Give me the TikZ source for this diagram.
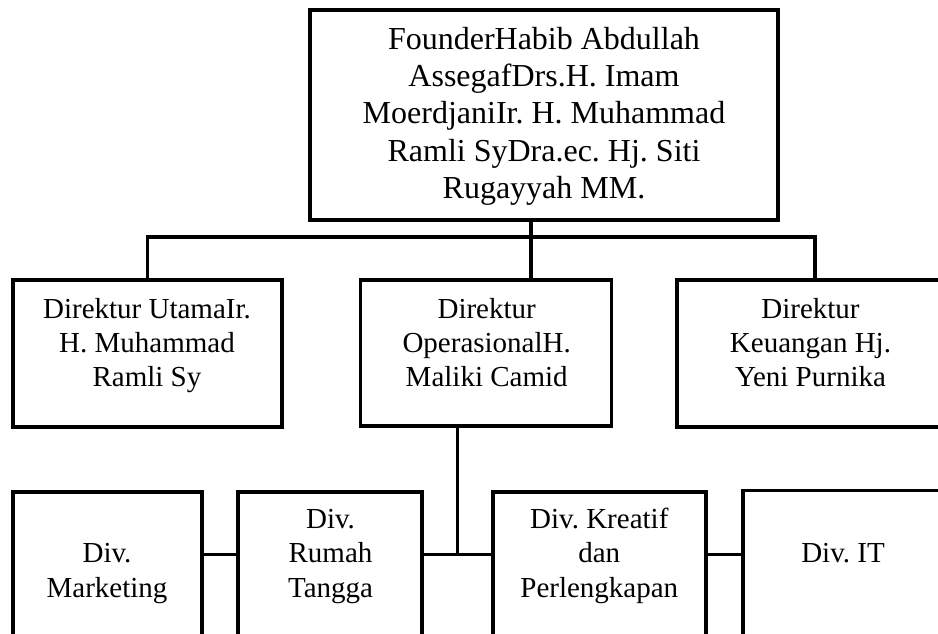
\documentclass[tikz,border=0pt]{standalone}
\usepackage{fontspec}
\setmainfont{Liberation Serif}
\frenchspacing
\begin{document}
\begin{tikzpicture}[x=1pt,y=-1pt,
  box/.style={draw, line width=3.3pt, rectangle, inner sep=0pt},
  conn/.style={line width=3.3pt},
  txt/.style={align=center, inner sep=0pt, anchor=base, font=\fontsize{29}{34.2}\selectfont\frenchspacing},
  bigtxt/.style={align=center, inner sep=0pt, anchor=base, font=\fontsize{32}{37.25}\selectfont\frenchspacing}]
\useasboundingbox (0,0) rectangle (938,634);
\clip (0,0) rectangle (938,634);
% boxes
\node[box, minimum width=468, minimum height=210] (top) at (544,115) {};
\node[box, minimum width=269, minimum height=147] (dirut) at (147.5,353.5) {};
\node[box, minimum width=251, minimum height=146] (opr) at (486,353) {};
\node[box, minimum width=276, minimum height=147] (keu) at (815,353.5) {};
\node[box, minimum width=189, minimum height=168] (mkt) at (107.5,576) {};
\node[box, minimum width=184, minimum height=168] (rt) at (330,576) {};
\node[box, minimum width=213, minimum height=168] (kr) at (599.5,576) {};
\node[box, minimum width=200, minimum height=169.5] (it) at (843,575.25) {};
% texts (anchor = baseline of the last line)
\node[bigtxt] (toptxt) at (544,198.3) {FounderHabib Abdullah\\AssegafDrs.H. Imam\\MoerdjaniIr. H. Muhammad\\Ramli SyDra.ec. Hj. Siti\\Rugayyah MM.};
\node[txt] (diruttxt) at (147,386.7) {Direktur UtamaIr.\\H. Muhammad\\Ramli Sy};
\node[txt] (oprtxt) at (486.7,386.7) {Direktur\\OperasionalH.\\Maliki Camid};
\node[txt] (keutxt) at (810.5,386.7) {Direktur\\Keuangan Hj.\\Yeni Purnika};
\node[txt] (mkttxt) at (107,597) {Div.\\Marketing};
\node[txt] (rttxt) at (330.5,597) {Div.\\Rumah\\Tangga};
\node[txt] (krtxt) at (599.3,597) {Div. Kreatif\\dan\\Perlengkapan};
\node[txt] (ittxt) at (843,562.7) {Div. IT};
% connectors
\coordinate (bus) at (531,237);
\coordinate (hub) at (457.3,554.3);
\draw[conn] (bus |- top.south) -- (bus |- opr.north);
\draw[conn] (dirut.north) -- (dirut.north |- bus) -- (keu.north |- bus) -- (keu.north);
\draw[conn] (hub |- opr.south) -- (hub);
\draw[conn] (mkt.east |- hub) -- (rt.west |- hub);
\draw[conn] (rt.east |- hub) -- (kr.west |- hub);
\draw[conn] (kr.east |- hub) -- (it.west |- hub);
\end{tikzpicture}
\end{document}
